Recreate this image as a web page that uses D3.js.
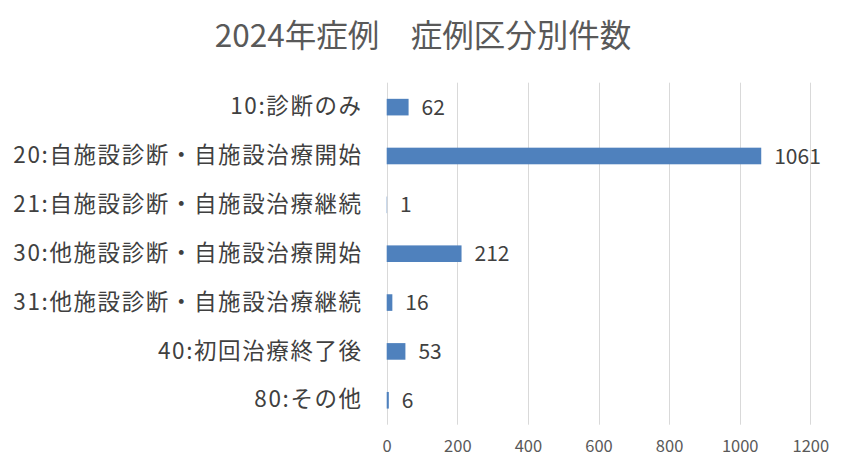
<!DOCTYPE html>
<html>
<head>
<meta charset="utf-8">
<script src="https://cdn.jsdelivr.net/npm/d3@7"></script>
<style>
  body { margin: 0; background: #fff; }
  svg text { font-family: "Noto Sans CJK JP", "Noto Sans", sans-serif; }
</style>
</head>
<body>
<div id="container"></div>
<script>
// データ
var categories = [
    "10:診断のみ",
    "20:自施設診断・自施設治療開始",
    "21:自施設診断・自施設治療継続",
    "30:他施設診断・自施設治療開始",
    "31:他施設診断・自施設治療継続",
    "40:初回治療終了後",
    "80:その他"
];
var counts = [62, 1061, 1, 212, 16, 53, 6];
var ticks = [0, 200, 400, 600, 800, 1000, 1200];
var title = "2024年症例\u3000症例区分別件数";

var w = 851;
var h = 471;
var margin = {top: 82.7, right: 40.7, bottom: 46.3, left: 386.7};

var svg = d3.select("div#container")
    .append("svg")
    .attr("width", w)
    .attr("height", h);

var x = d3.scaleLinear()
    .domain([0, 1200])
    .range([margin.left, w - margin.right]);

var y = d3.scaleBand()
    .domain(categories)
    .range([margin.top, h - margin.bottom])
    .paddingInner(0.66)
    .paddingOuter(0.33);

// グリッド線
svg.append("g")
    .selectAll("line")
    .data(ticks)
    .enter()
    .append("line")
    .attr("x1", function(d){ return Math.round(x(d)) + 0.5; })
    .attr("x2", function(d){ return Math.round(x(d)) + 0.5; })
    .attr("y1", margin.top)
    .attr("y2", h - margin.bottom)
    .attr("stroke", "#d9d9d9")
    .attr("stroke-width", 1);

// x軸ラベル
var xAxis = svg.append("g")
    .attr("transform", "translate(0," + (h - margin.bottom) + ")")
    .call(d3.axisBottom(x).tickValues(ticks).tickFormat(d3.format("d")).tickSize(0).tickPadding(16));
xAxis.select(".domain").remove();
xAxis.selectAll("text")
    .style("font-size", "16.5px")
    .attr("fill", "#595959");

// y軸ラベル
var yAxis = svg.append("g")
    .attr("transform", "translate(" + margin.left + ",0)")
    .call(d3.axisLeft(y).tickSize(0).tickPadding(24));
yAxis.select(".domain").remove();
yAxis.selectAll("text")
    .style("font-size", "22.5px")
    .style("letter-spacing", "1.6px")
    .attr("fill", "#404040");

// 棒
svg.selectAll("rect.bar")
    .data(counts)
    .enter()
    .append("rect")
    .attr("class", "bar")
    .attr("x", x(0))
    .attr("y", function(d, i){ return y(categories[i]); })
    .attr("width", function(d){ return x(d) - x(0); })
    .attr("height", y.bandwidth())
    .attr("fill", "#4f81bd");

// 値ラベル
svg.selectAll("text.valor")
    .data(counts)
    .enter()
    .append("text")
    .attr("class", "valor")
    .attr("x", function(d){ return x(d) + 13; })
    .attr("y", function(d, i){ return y(categories[i]) + y.bandwidth() / 2; })
    .attr("dy", "0.36em")
    .style("font-size", "21px")
    .attr("fill", "#404040")
    .text(function(d){ return d; });

// タイトル
svg.append("text")
    .attr("x", 423)
    .attr("y", 47)
    .attr("text-anchor", "middle")
    .style("font-size", "31.5px")
    .attr("fill", "#595959")
    .text(title);
</script>
</body>
</html>
